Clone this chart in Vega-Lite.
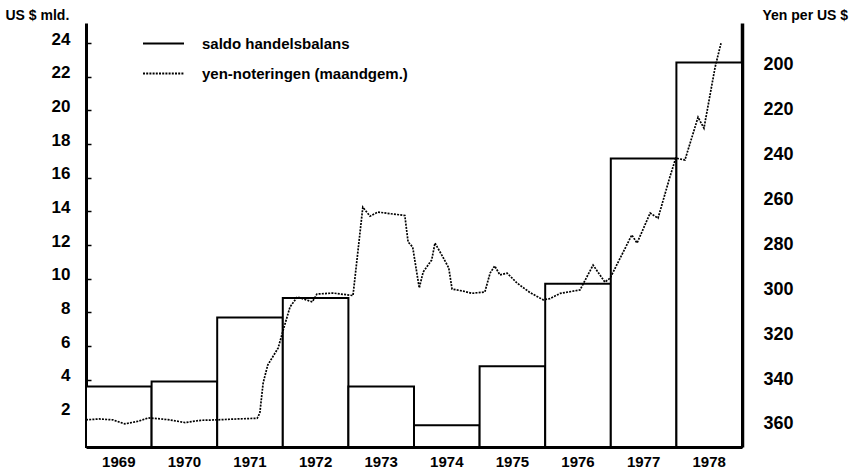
{
  "$schema": "https://vega.github.io/schema/vega-lite/v6.json",
  "width": 656,
  "height": 424,
  "autosize": "none",
  "padding": {"left": 86, "top": 23, "right": 114, "bottom": 25},
  "background": "white",
  "config": {
    "view": {"stroke": null},
    "font": "Liberation Sans",
    "axis": {
      "labelFont": "Liberation Sans",
      "labelFontWeight": "bold",
      "labelColor": "black",
      "domainColor": "black",
      "tickColor": "black",
      "grid": false,
      "titleFont": "Liberation Sans",
      "titleFontWeight": "bold",
      "titleColor": "black"
    }
  },
  "layer": [
    {
      "data": {
        "values": [
          {"year": 1969, "saldo": 3.6},
          {"year": 1970, "saldo": 3.9},
          {"year": 1971, "saldo": 7.7},
          {"year": 1972, "saldo": 8.85},
          {"year": 1973, "saldo": 3.6},
          {"year": 1974, "saldo": 1.3},
          {"year": 1975, "saldo": 4.8},
          {"year": 1976, "saldo": 9.7},
          {"year": 1977, "saldo": 17.15},
          {"year": 1978, "saldo": 22.85}
        ]
      },
      "mark": {"type": "bar", "fill": "white", "stroke": "black", "strokeWidth": 2},
      "encoding": {
        "x": {
          "field": "year",
          "type": "ordinal",
          "scale": {"paddingInner": 0, "paddingOuter": 0},
          "axis": {"title": null, "labelAngle": 0, "ticks": false, "labelPadding": 7, "labelFontSize": 15, "domainWidth": 3}
        },
        "y": {
          "field": "saldo",
          "type": "quantitative",
          "scale": {"domain": [0, 25.2], "nice": false},
          "axis": {
            "values": [2, 4, 6, 8, 10, 12, 14, 16, 18, 20, 22, 24],
            "tickSize": -5,
            "tickWidth": 1.5,
            "labelPadding": 21,
            "labelFontSize": 17,
            "labelOffset": -4,
            "domainWidth": 3,
            "title": "US $ mld.",
            "titleAngle": 0,
            "titleAlign": "left",
            "titleBaseline": "alphabetic",
            "titleX": -81,
            "titleY": -4,
            "titleFontSize": 14
          }
        },
        "strokeDash": {
          "datum": "saldo handelsbalans",
          "type": "nominal",
          "scale": {
            "domain": ["saldo handelsbalans", "yen-noteringen (maandgem.)"],
            "range": [[1, 0], [2, 1.2]]
          }
        }
      }
    },
    {
      "data": {
        "values": [
          {"t": 1969.0, "yen": 356.4},
          {"t": 1969.2, "yen": 356.0},
          {"t": 1969.41, "yen": 356.4},
          {"t": 1969.59, "yen": 358.2},
          {"t": 1969.8, "yen": 357.0},
          {"t": 1969.95, "yen": 355.5},
          {"t": 1970.25, "yen": 356.3},
          {"t": 1970.51, "yen": 357.6},
          {"t": 1970.75, "yen": 356.6},
          {"t": 1971.0, "yen": 356.4},
          {"t": 1971.3, "yen": 356.0},
          {"t": 1971.61, "yen": 355.7},
          {"t": 1971.65, "yen": 353.3},
          {"t": 1971.7, "yen": 340.0},
          {"t": 1971.77, "yen": 332.0},
          {"t": 1971.93, "yen": 324.3},
          {"t": 1971.99, "yen": 318.0},
          {"t": 1972.11, "yen": 306.1},
          {"t": 1972.22, "yen": 301.6},
          {"t": 1972.45, "yen": 303.8},
          {"t": 1972.52, "yen": 300.3},
          {"t": 1972.77, "yen": 299.9},
          {"t": 1973.07, "yen": 301.0},
          {"t": 1973.22, "yen": 261.6},
          {"t": 1973.33, "yen": 265.6},
          {"t": 1973.45, "yen": 263.8},
          {"t": 1973.86, "yen": 265.3},
          {"t": 1973.91, "yen": 277.1},
          {"t": 1973.98, "yen": 279.4},
          {"t": 1974.08, "yen": 297.6},
          {"t": 1974.14, "yen": 290.5},
          {"t": 1974.27, "yen": 285.1},
          {"t": 1974.32, "yen": 277.6},
          {"t": 1974.44, "yen": 283.8},
          {"t": 1974.53, "yen": 288.7},
          {"t": 1974.58, "yen": 298.1},
          {"t": 1974.75, "yen": 299.0},
          {"t": 1974.88, "yen": 300.0},
          {"t": 1975.08, "yen": 299.4},
          {"t": 1975.16, "yen": 291.0},
          {"t": 1975.23, "yen": 287.8},
          {"t": 1975.31, "yen": 291.8},
          {"t": 1975.42, "yen": 291.0},
          {"t": 1975.57, "yen": 295.4},
          {"t": 1975.77, "yen": 299.7},
          {"t": 1975.97, "yen": 302.9},
          {"t": 1976.07, "yen": 302.4},
          {"t": 1976.23, "yen": 300.0},
          {"t": 1976.53, "yen": 298.5},
          {"t": 1976.73, "yen": 287.4},
          {"t": 1976.91, "yen": 295.0},
          {"t": 1976.99, "yen": 293.2},
          {"t": 1977.32, "yen": 274.0},
          {"t": 1977.4, "yen": 277.6},
          {"t": 1977.6, "yen": 264.2},
          {"t": 1977.72, "yen": 266.5},
          {"t": 1977.9, "yen": 248.2},
          {"t": 1977.99, "yen": 239.7},
          {"t": 1978.13, "yen": 240.6},
          {"t": 1978.33, "yen": 221.5},
          {"t": 1978.42, "yen": 226.4},
          {"t": 1978.59, "yen": 199.2},
          {"t": 1978.68, "yen": 188.5}
        ]
      },
      "mark": {"type": "line", "color": "black", "strokeWidth": 1.7},
      "encoding": {
        "x": {
          "field": "t",
          "type": "quantitative",
          "scale": {"domain": [1969, 1979], "nice": false, "zero": false},
          "axis": null
        },
        "y": {
          "field": "yen",
          "type": "quantitative",
          "scale": {"domain": [179.5, 368.5], "reverse": true, "nice": false, "zero": false},
          "axis": {
            "orient": "right",
            "values": [200, 220, 240, 260, 280, 300, 320, 340, 360],
            "tickSize": -5,
            "tickWidth": 1.5,
            "labelPadding": 26,
            "labelFontSize": 18,
            "labelOffset": -4,
            "domainWidth": 3.5,
            "title": "Yen per US $",
            "titleAngle": 0,
            "titleAlign": "left",
            "titleBaseline": "alphabetic",
            "titleX": 20,
            "titleY": -4,
            "titleFontSize": 14
          }
        },
        "strokeDash": {
          "datum": "yen-noteringen (maandgem.)",
          "type": "nominal",
          "legend": {
            "orient": "none",
            "legendX": 56,
            "legendY": -1,
            "title": null,
            "symbolType": "M-1,0L1,0",
            "symbolSize": 1681,
            "symbolStrokeWidth": 1.8,
            "symbolStrokeColor": "black",
            "symbolFillColor": "transparent",
            "labelFontSize": 15,
            "labelFont": "Liberation Sans",
            "labelFontWeight": "bold",
            "labelColor": "black",
            "labelOffset": 17,
            "labelLimit": 0,
            "rowPadding": -10,
            "padding": 0
          }
        }
      }
    }
  ],
  "resolve": {"scale": {"x": "independent", "y": "independent"}}
}
